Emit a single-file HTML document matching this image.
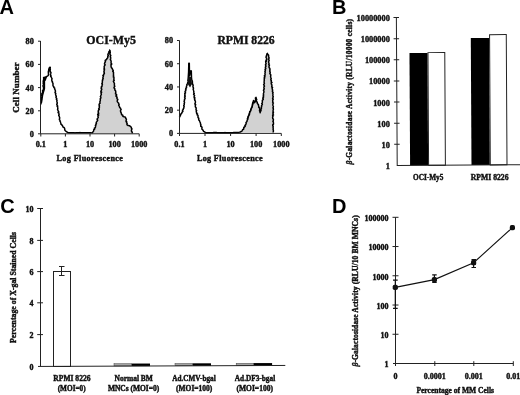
<!DOCTYPE html>
<html><head><meta charset="utf-8">
<style>
html,body{margin:0;padding:0;background:#fff;width:520px;height:395px;overflow:hidden}
svg{display:block;will-change:transform}
.s{font-family:"Liberation Serif",serif;font-weight:bold;fill:#111;stroke:#111;stroke-width:0.4}
.p{font-family:"Liberation Sans",sans-serif;font-weight:bold;fill:#000;font-size:20px}
.ax{stroke:#222;stroke-width:1;fill:none}
.h{stroke:#000;stroke-width:1.5;fill:none;stroke-linejoin:round}
</style></head>
<body>
<svg width="520" height="395" viewBox="0 0 520 395">
<!-- panel letters -->
<text class="p" x="-0.5" y="13.6">A</text>
<text class="p" x="332" y="14">B</text>
<text class="p" x="0.2" y="213.2">C</text>
<text class="p" x="332.1" y="212.6">D</text>

<!-- ===== Panel A left ===== -->
<g id="A1">
<polygon points="91.8,133.3 93.6,131.1 95.5,126.9 97.3,120.8 98.5,112.3 100.3,100.2 101.4,90 102.5,79.2 103.1,76.9 104.2,71.2 104.8,65.5 105.1,61 106.5,59.8 107.7,56.4 108.8,51.8 109.6,50.1 110.3,56.4 111.1,61 111.6,67.8 112.8,70 113.3,76.9 113.9,82.6 114.9,90.1 117.1,98.8 119.2,106 120.7,108.9 121.4,113.2 122.8,116.1 125.7,118.2 127.2,123.3 127.9,125.5 130,126.2 131.5,128.3 132.2,132.7 132.6,133.3" fill="#d2d2d2" stroke="none"/>
<polyline class="h" points="91.80,133.30 92.25,132.75 92.70,132.20 93.15,131.65 93.60,131.10 93.72,130.31 93.85,129.53 94.72,129.07 94.40,128.09 95.22,127.62 95.50,126.90 95.55,126.18 95.39,125.39 96.11,124.87 95.77,124.03 96.42,123.49 96.20,122.69 96.43,122.02 97.01,121.45 97.30,120.80 97.79,120.15 97.05,119.32 97.27,118.63 97.85,117.99 98.33,117.33 97.99,116.56 97.88,115.82 98.67,115.21 97.66,114.35 98.73,113.78 98.15,112.97 98.50,112.30 98.18,111.53 98.26,110.81 98.59,110.13 99.30,109.51 98.65,108.68 99.23,108.04 99.41,107.34 99.20,106.58 99.51,105.90 99.04,105.11 99.14,104.39 99.42,103.71 100.09,103.08 99.90,102.32 99.87,101.59 100.30,100.93 100.30,100.20 100.32,99.47 100.22,98.72 100.89,98.05 100.85,97.31 100.39,96.52 100.86,95.84 100.88,95.10 101.38,94.42 101.28,93.67 100.83,92.89 101.74,92.25 100.79,91.41 101.22,90.72 101.40,90.00 101.78,89.31 101.13,88.52 101.61,87.84 101.14,87.06 101.97,86.42 102.16,85.71 102.00,84.97 102.43,84.29 101.84,83.50 102.37,82.82 102.32,82.09 102.38,81.37 102.30,80.63 102.83,79.96 102.50,79.20 103.22,78.57 102.87,77.66 103.10,76.90 103.43,76.22 102.86,75.38 103.75,74.81 103.82,74.08 104.37,73.45 104.30,72.70 103.81,71.86 104.20,71.20 104.14,70.47 104.55,69.80 103.86,69.00 104.45,68.35 104.18,67.60 104.19,66.88 104.20,66.16 104.80,65.50 105.17,64.77 104.46,63.97 104.65,63.23 104.87,62.49 105.49,61.78 105.10,61.00 105.47,60.02 106.50,59.80 106.68,59.10 107.04,58.46 107.65,57.91 107.82,57.21 107.70,56.40 108.31,55.73 107.81,54.80 108.15,54.08 108.27,53.29 109.07,52.67 108.80,51.80 109.70,51.18 109.60,50.10 110.09,50.75 110.14,51.46 110.15,52.16 110.23,52.86 110.01,53.60 109.96,54.31 110.43,54.97 110.81,55.63 110.30,56.40 110.53,57.15 110.72,57.91 110.62,58.71 110.30,59.56 110.74,60.27 111.10,61.00 111.14,61.76 111.07,62.52 111.06,63.28 111.86,63.98 110.90,64.81 111.10,65.56 111.04,66.32 111.19,67.07 111.60,67.80 112.11,68.47 112.51,69.21 112.80,70.00 113.33,70.73 112.75,71.54 113.49,72.26 113.54,73.03 113.43,73.81 113.54,74.57 113.38,75.35 113.78,76.09 113.30,76.90 113.97,77.55 113.87,78.28 114.00,78.99 113.76,79.73 114.24,80.40 113.30,81.22 113.69,81.90 113.90,82.60 114.42,83.29 114.39,84.06 114.38,84.83 114.46,85.58 114.85,86.29 114.08,87.16 114.01,87.93 114.74,88.59 114.82,89.35 114.90,90.10 115.57,90.70 115.73,91.43 115.63,92.23 115.91,92.93 115.43,93.82 116.39,94.35 116.74,95.03 115.84,96.03 116.52,96.63 117.14,97.25 116.87,98.09 117.10,98.80 117.85,99.36 117.49,100.25 117.18,101.12 117.52,101.80 117.92,102.47 118.64,103.04 118.72,103.80 119.16,104.45 118.68,105.37 119.20,106.00 119.54,106.74 119.65,107.60 120.51,108.08 120.70,108.90 121.14,109.56 120.56,110.39 120.48,111.14 120.75,111.83 120.92,112.54 121.40,113.20 121.41,114.09 121.84,114.78 122.75,115.23 122.80,116.10 123.37,116.54 124.06,116.80 124.87,116.90 125.45,117.32 125.70,118.20 126.17,118.85 126.41,119.58 126.12,120.45 126.03,121.27 126.83,121.82 126.48,122.72 127.20,123.30 126.88,124.21 127.15,124.93 127.90,125.50 128.65,125.58 129.41,125.65 130.00,126.20 130.77,126.71 131.30,127.39 131.50,128.30 131.97,128.98 131.59,129.79 131.38,130.58 131.56,131.30 132.08,131.97 132.20,132.70 132.60,133.30"/>
<polyline class="h" points="40.90,104.50 40.94,103.71 41.13,102.94 41.58,102.19 41.21,101.35 41.34,100.57 41.50,99.80 41.50,99.00 41.29,98.21 41.71,97.50 41.93,96.77 42.19,96.04 41.60,95.20 41.91,94.47 41.79,93.70 42.30,93.00 42.78,92.38 42.85,91.65 42.40,90.79 43.49,90.32 43.20,89.50 43.72,88.75 43.47,87.94 43.49,87.15 43.09,86.33 43.00,85.54 43.57,84.79 43.60,84.00 43.16,83.28 43.29,82.56 43.34,81.83 43.13,81.11 43.56,80.39 43.54,79.67 43.94,78.94 43.62,78.22 43.60,77.50 44.32,77.54 45.00,77.30 45.13,78.20 45.11,79.12 45.40,80.00 45.46,79.24 45.38,78.47 46.19,77.82 45.80,77.00 46.80,76.50 47.80,75.80 48.43,75.20 48.43,74.47 48.45,73.74 48.40,73.00 48.34,72.22 48.38,71.46 48.57,70.72 48.90,70.00 48.65,69.08 49.49,68.39 49.40,67.50 50.20,67.30 50.32,68.04 49.89,68.79 50.37,69.52 49.82,70.27 50.30,71.00 50.03,71.78 50.95,72.45 50.81,73.22 50.60,74.00 50.38,74.84 50.98,75.49 50.66,76.36 51.30,77.00 51.57,77.81 52.05,78.58 51.80,79.50 51.82,80.28 51.83,81.05 52.48,81.70 52.40,82.50 53.00,83.16 52.96,83.99 53.00,84.80 52.98,85.85 53.80,86.50 53.82,87.41 54.70,88.05 54.60,89.00 55.00,89.70 55.29,90.42 55.48,91.16 55.20,92.00 55.03,92.78 55.77,93.40 55.52,94.19 55.70,94.90 55.90,95.67 56.30,96.39 55.92,97.27 56.30,98.00 56.78,98.75 56.40,99.62 57.04,100.34 56.86,101.19 56.90,102.00 57.27,102.66 57.30,103.37 56.70,104.16 56.95,104.84 57.53,105.48 57.04,106.25 57.80,106.86 57.60,107.60 57.85,108.43 57.55,109.36 57.91,110.17 58.20,111.00 58.74,111.67 58.02,112.60 58.93,113.19 58.80,114.00 59.13,114.68 58.70,115.46 59.23,116.12 59.35,116.83 59.66,117.51 59.73,118.23 59.33,119.00 59.50,119.70 60.02,120.35 59.97,121.22 60.46,121.87 60.66,122.64 60.90,123.40 61.00,124.36 61.86,124.79 62.26,125.54 62.80,126.20 62.97,127.11 64.01,127.42 64.51,128.11 64.70,129.00 64.81,130.01 65.36,130.76 66.10,131.40 66.70,131.80 67.30,132.20 67.90,132.60 68.60,132.63 69.30,132.67 70.00,132.70 70.71,132.73 71.43,132.76 72.14,132.79 72.86,132.81 73.57,132.84 74.29,132.87 75.00,132.90 75.71,132.86 76.43,132.81 77.14,132.77 77.86,132.73 78.57,132.69 79.29,132.64 80.00,132.60 80.71,132.63 81.43,132.66 82.14,132.69 82.86,132.71 83.57,132.74 84.29,132.77 85.00,132.80 85.76,132.80 86.51,132.80 87.27,132.80 88.02,132.80 88.78,132.80 89.53,132.80 90.29,132.80 91.04,132.80 91.80,132.80"/>
<polyline points="44.4,77.8 44.4,88.5 42.6,95 41.5,102" fill="none" stroke="#000" stroke-width="1.5" stroke-linejoin="round"/>
<path class="ax" d="M40.5,41 V133.8 H139.2 M38,41.2 H40.5 M38,64.4 H40.5 M38,87.6 H40.5 M38,110.8 H40.5 M38,133.8 H40.5 M40.8,133.8 V136.5 M65.4,133.8 V136.5 M90,133.8 V136.5 M114.6,133.8 V136.5 M139.2,133.8 V136.5"/>
<g class="s" font-size="8.2" text-anchor="end">
<text x="33.8" y="44.2">80</text>
<text x="33.8" y="67.4">60</text>
<text x="33.8" y="90.6">40</text>
<text x="33.8" y="113.8">20</text>
<text x="33.8" y="137">0</text>
</g>
<g class="s" font-size="8.2" text-anchor="middle">
<text x="40.8" y="147">0.1</text>
<text x="65.4" y="147">1</text>
<text x="90" y="147">10</text>
<text x="114.6" y="147">100</text>
<text x="139.2" y="147">1000</text>
</g>
<text class="s" font-size="8.2" x="56.5" y="161.2" textLength="66.5" lengthAdjust="spacing">Log Fluorescence</text>
<text class="s" font-size="12" x="86.3" y="44.4" textLength="49.6" lengthAdjust="spacingAndGlyphs">OCI-My5</text>
<text class="s" font-size="9" transform="translate(19.4,112.8) rotate(-90)" textLength="50.4" lengthAdjust="spacing">Cell Number</text>
</g>

<!-- ===== Panel A right ===== -->
<g id="A2">
<polygon points="239.2,132.6 242.1,130.9 243.8,128.4 245.6,124.9 247.3,120 247.9,117.9 249,115 249.6,112.1 250.8,110.3 251.4,108.6 252.5,105.1 253.2,102 253.7,100.5 254.3,102.8 255.2,101 255.6,99 256,97.4 256.6,101.6 257.8,104 258.9,106.3 259.5,110.3 260.1,112.7 261.3,108.6 262.4,101.6 263.6,94.7 264.1,84 265,72.9 265.9,63.1 266.8,54 267.5,53.4 268.6,56.1 268.9,63.1 270,72.9 271.4,81.2 272.4,89.6 272.9,93.8 273.2,132.6" fill="#d2d2d2" stroke="none"/>
<polyline class="h" points="239.20,132.60 239.92,132.18 240.65,131.75 241.36,131.30 242.10,130.90 242.43,130.21 242.68,129.47 243.65,129.21 243.80,128.40 243.76,127.50 244.52,127.00 245.20,126.46 244.90,125.43 245.60,124.90 245.89,124.22 246.18,123.53 245.94,122.66 246.47,122.06 246.99,121.46 247.02,120.69 247.30,120.00 247.69,119.36 247.40,118.52 247.90,117.90 247.95,117.09 248.12,116.33 248.73,115.73 249.00,115.00 249.52,114.35 249.38,113.57 249.69,112.88 249.60,112.10 249.91,111.44 250.58,111.02 250.80,110.30 250.76,109.33 251.40,108.60 251.44,107.84 251.99,107.25 252.25,106.56 252.21,105.78 252.50,105.10 252.31,104.24 252.65,103.50 252.77,102.72 253.20,102.00 253.26,101.19 253.70,100.50 253.63,101.34 254.36,101.97 254.30,102.80 255.06,102.06 255.20,101.00 255.73,100.07 255.60,99.00 255.41,98.10 256.00,97.40 256.21,98.08 256.21,98.80 256.72,99.44 256.47,100.19 256.14,100.95 256.60,101.60 257.31,102.24 257.32,103.24 257.80,104.00 258.47,104.62 258.47,105.56 258.90,106.30 258.67,107.15 259.40,107.86 259.70,108.63 259.75,109.44 259.50,110.30 259.67,111.11 260.32,111.79 260.10,112.70 259.94,111.91 260.50,111.33 261.06,110.76 260.83,109.95 261.01,109.26 261.30,108.60 261.53,107.92 261.16,107.14 261.70,106.51 261.45,105.75 261.95,105.12 262.37,104.46 261.67,103.64 262.23,103.01 262.38,102.31 262.40,101.60 262.21,100.86 262.43,100.18 263.20,99.61 263.32,98.92 262.66,98.09 263.30,97.49 263.64,96.84 263.13,96.04 263.58,95.41 263.60,94.70 263.22,93.97 263.55,93.27 263.86,92.57 263.81,91.85 264.01,91.14 263.43,90.40 263.70,89.70 264.19,89.01 263.98,88.28 263.89,87.56 263.88,86.85 264.44,86.16 264.10,85.43 263.63,84.69 264.10,84.00 264.43,83.28 264.07,82.51 264.22,81.78 264.08,81.02 264.35,80.30 264.30,79.55 264.15,78.79 264.70,78.09 264.28,77.31 264.95,76.62 264.33,75.83 265.07,75.14 265.16,74.40 264.94,73.64 265.00,72.90 265.25,72.22 264.90,71.48 265.41,70.82 265.19,70.09 265.08,69.38 265.80,68.74 265.36,67.99 265.40,67.29 265.90,66.63 265.53,65.89 265.86,65.21 265.48,64.47 266.14,63.83 265.90,63.10 265.75,62.38 265.64,61.66 266.53,61.04 265.88,60.27 266.65,59.64 266.75,58.94 266.48,58.21 266.02,57.46 266.13,56.76 266.33,56.07 266.56,55.39 266.83,54.71 266.80,54.00 267.50,53.40 267.39,54.23 268.17,54.70 268.62,55.30 268.60,56.10 268.57,56.80 268.99,57.49 269.06,58.18 268.67,58.90 268.57,59.61 269.17,60.28 268.85,61.00 268.66,61.71 268.63,62.41 268.90,63.10 269.08,63.79 268.71,64.54 269.43,65.17 269.02,65.92 269.05,66.63 269.03,67.34 269.45,68.00 269.89,68.66 270.01,69.35 269.66,70.10 270.06,70.77 269.73,71.51 270.29,72.16 270.00,72.90 269.87,73.63 270.48,74.24 270.78,74.90 270.75,75.62 270.62,76.35 270.65,77.06 270.92,77.72 271.22,78.38 271.07,79.12 270.77,79.88 271.25,80.51 271.40,81.20 271.09,81.95 271.99,82.55 271.21,83.35 271.39,84.04 271.78,84.70 271.88,85.40 271.95,86.10 271.70,86.84 272.54,87.45 272.11,88.22 272.28,88.90 272.40,89.60 272.66,90.28 272.37,91.02 272.45,91.72 273.09,92.36 272.64,93.12 272.90,93.80 272.95,94.51 272.92,95.21 272.79,95.92 273.32,96.62 272.83,97.33 273.05,98.03 272.60,98.74 273.19,99.44 272.66,100.15 272.75,100.86 272.85,101.56 272.63,102.27 273.39,102.97 272.89,103.68 272.88,104.38 272.83,105.09 273.08,105.79 273.39,106.50 273.28,107.20 272.91,107.91 273.30,108.61 273.41,109.32 273.16,110.02 273.06,110.73 273.00,111.44 273.47,112.14 272.80,112.85 273.20,113.55 272.80,114.26 273.51,114.96 272.66,115.67 272.99,116.38 272.65,117.08 272.65,117.79 272.79,118.49 273.45,119.19 273.24,119.90 273.35,120.61 272.86,121.31 273.40,122.02 273.37,122.72 273.48,123.43 273.48,124.13 272.75,124.84 272.72,125.55 273.27,126.25 272.94,126.96 273.19,127.66 273.15,128.37 273.29,129.07 273.06,129.78 273.42,130.48 273.41,131.19 273.19,131.89 273.20,132.60"/>
<polyline points="247.5,119.5 249.3,113.5 251,109.5 252.8,104.5 253.7,101.5" fill="none" stroke="#000" stroke-width="1.2"/>
<polyline class="h" points="179.40,117.30 179.80,116.56 180.20,115.83 180.55,115.07 180.60,114.20 181.45,113.74 181.84,112.93 182.20,112.10 182.89,111.37 182.47,110.21 183.20,109.50 183.33,108.75 183.90,108.10 183.80,107.30 184.18,106.60 183.65,105.71 184.12,105.04 184.30,104.30 184.12,103.57 184.44,102.87 184.52,102.15 184.06,101.40 184.30,100.70 184.60,100.00 184.47,99.27 185.10,98.61 185.03,97.88 184.55,97.12 185.19,96.45 184.66,95.69 185.16,95.01 184.78,94.26 184.73,93.53 185.58,92.89 185.05,92.12 185.12,91.41 185.87,90.75 185.50,90.00 186.04,89.29 185.76,88.35 186.56,87.71 186.41,86.81 186.60,86.00 187.00,85.30 186.85,84.42 187.73,83.88 187.60,83.00 187.86,82.31 188.19,81.62 188.21,80.90 187.76,80.12 188.03,79.43 188.11,78.71 188.20,78.00 188.25,77.25 188.30,76.50 188.35,75.75 188.40,75.00 188.45,74.25 188.50,73.50 188.55,72.75 188.60,72.00 188.62,71.28 188.63,70.55 188.65,69.83 188.67,69.10 188.68,68.38 188.70,67.65 188.72,66.92 188.73,66.20 188.75,65.47 188.77,64.75 188.78,64.02 188.80,63.30 189.30,63.30 189.31,64.01 189.32,64.71 189.33,65.42 189.34,66.12 189.36,66.83 189.37,67.53 189.38,68.24 189.39,68.94 189.40,69.65 189.41,70.36 189.42,71.06 189.43,71.77 189.44,72.47 189.46,73.18 189.47,73.88 189.48,74.59 189.49,75.29 189.50,76.00 189.66,75.20 189.82,74.40 189.98,73.60 190.14,72.80 190.30,72.00 190.80,70.80 191.30,71.00 191.32,71.70 191.34,72.40 191.36,73.10 191.38,73.80 191.40,74.50 191.42,75.20 191.44,75.90 191.46,76.60 191.48,77.30 191.50,78.00 191.60,78.71 191.70,79.43 191.92,80.13 192.20,80.82 192.32,81.53 192.49,82.23 192.20,83.00 192.57,83.70 192.51,84.52 193.23,85.13 193.00,86.00 192.94,86.82 193.34,87.58 193.47,88.38 193.12,89.24 193.50,90.00 193.60,90.71 193.84,91.41 193.77,92.14 193.66,92.88 194.32,93.52 193.59,94.34 194.10,95.00 194.63,95.70 194.08,96.54 194.09,97.30 194.93,97.96 194.34,98.81 194.82,99.51 194.73,100.29 195.34,100.98 195.40,101.74 195.38,102.51 195.20,103.30 194.91,104.09 195.70,104.70 195.32,105.51 195.28,106.25 195.38,106.98 196.03,107.62 196.14,108.34 196.10,109.09 195.99,109.85 196.70,110.48 196.25,111.29 196.32,112.02 196.70,112.70 196.63,113.49 197.56,113.94 197.02,114.90 197.98,115.34 198.00,116.10 198.01,116.87 197.98,117.64 198.70,118.16 198.80,118.90 198.66,119.76 199.22,120.40 199.65,121.08 199.87,121.82 200.22,122.53 200.53,123.25 200.40,124.10 200.95,124.67 200.74,125.53 200.73,126.30 201.69,126.73 202.03,127.38 201.90,128.20 201.91,129.18 202.67,129.76 203.18,130.49 203.50,131.30 204.20,131.73 204.90,132.17 205.60,132.60 206.33,132.63 207.07,132.67 207.80,132.70 208.53,132.73 209.27,132.77 210.00,132.80 210.71,132.76 211.43,132.71 212.14,132.67 212.86,132.63 213.57,132.59 214.29,132.54 215.00,132.50 215.71,132.54 216.43,132.59 217.14,132.63 217.86,132.67 218.57,132.71 219.29,132.76 220.00,132.80 220.71,132.77 221.43,132.74 222.14,132.71 222.86,132.69 223.57,132.66 224.29,132.63 225.00,132.60 225.71,132.63 226.43,132.66 227.14,132.69 227.86,132.71 228.57,132.74 229.29,132.77 230.00,132.80 230.71,132.76 231.43,132.71 232.14,132.67 232.86,132.63 233.57,132.59 234.29,132.54 235.00,132.50 235.70,132.52 236.40,132.53 237.10,132.55 237.80,132.57 238.50,132.58 239.20,132.60"/>
<polygon points="188.3,77 191.3,77 192,84 190,87.5 187.7,84" fill="#111"/>
<path class="ax" d="M179.5,40.5 V133.4 H281.3 M177,40.50 H179.5 M177,63.73 H179.5 M177,86.95 H179.5 M177,110.18 H179.5 M177,133.40 H179.5 M179.5,133.4 V136 M205.0,133.4 V136 M230.6,133.4 V136 M256.1,133.4 V136 M281.3,133.4 V136"/>
<g class="s" font-size="8.2" text-anchor="end">
<text x="173" y="43.40">80</text>
<text x="173" y="66.62">60</text>
<text x="173" y="89.85">40</text>
<text x="173" y="113.08">20</text>
<text x="173" y="136.30">0</text>
</g>
<g class="s" font-size="8.2" text-anchor="middle">
<text x="179.4" y="146.9">0.1</text>
<text x="205" y="146.9">1</text>
<text x="230.6" y="146.9">10</text>
<text x="256.1" y="146.9">100</text>
<text x="281.3" y="146.9">1000</text>
</g>
<text class="s" font-size="8.2" x="196.9" y="160.8" textLength="65.8" lengthAdjust="spacing">Log Fluorescence</text>
<text class="s" font-size="11.6" x="217.4" y="43.6" textLength="57.2" lengthAdjust="spacingAndGlyphs">RPMI 8226</text>
</g>

<!-- ===== Panel B ===== -->
<g id="B">
<g transform="rotate(-0.32 397.2 165.4)">
<rect x="410.1" y="53.1" width="18" height="112.3" fill="#000"/>
<rect x="428.6" y="52.8" width="16.8" height="112.6" fill="#fff" stroke="#222" stroke-width="1"/>
<rect x="471.5" y="38.4" width="18.3" height="127" fill="#000"/>
<rect x="490.3" y="35.2" width="16.7" height="130.2" fill="#fff" stroke="#222" stroke-width="1"/>
<path class="ax" d="M397.2,17.6 V165.4 H530 M394.3,17.60 H399.8 M394.3,38.71 H399.8 M394.3,59.82 H399.8 M394.3,80.93 H399.8 M394.3,102.04 H399.8 M394.3,123.15 H399.8 M394.3,144.26 H399.8"/>
</g>
<g class="s" font-size="8.3" text-anchor="end">
<text x="389.8" y="21.10">10000000</text>
<text x="389.8" y="42.21">1000000</text>
<text x="389.8" y="63.32">100000</text>
<text x="389.8" y="84.43">10000</text>
<text x="389.8" y="105.54">1000</text>
<text x="389.8" y="126.65">100</text>
<text x="389.8" y="147.76">10</text>
<text x="389.8" y="168.87">1</text>
</g>
<text class="s" font-size="7.6" x="413" y="180.1" textLength="30.3" lengthAdjust="spacingAndGlyphs">OCI-My5</text>
<text class="s" font-size="7.6" x="470.8" y="179.8" textLength="37.7" lengthAdjust="spacingAndGlyphs">RPMI 8226</text>
<text class="s" font-size="7.4" transform="translate(351.6,164.4) rotate(-90)" textLength="145.4" lengthAdjust="spacing"><tspan font-style="italic">β</tspan>-Galactosidase Activity (RLU/10000 cells)</text>
</g>

<!-- ===== Panel C ===== -->
<g id="C">
<rect x="53.5" y="271.5" width="17" height="95" fill="#fff" stroke="#222" stroke-width="1"/>
<path d="M61.5,266.5 V275.5 M59,266.5 H64.5 M59,275.5 H64.5" stroke="#222" stroke-width="1" fill="none"/>
<rect x="114.0" y="363.74" width="17.6" height="2.2" fill="#a4a4a4" stroke="#444" stroke-width="0.5"/>
<rect x="131.7" y="363.54" width="18.3" height="2.6" fill="#000"/>
<rect x="175.0" y="363.51" width="17.6" height="2.2" fill="#a4a4a4" stroke="#444" stroke-width="0.5"/>
<rect x="192.7" y="363.31" width="18.3" height="2.6" fill="#000"/>
<rect x="236.2" y="363.27" width="17.6" height="2.2" fill="#a4a4a4" stroke="#444" stroke-width="0.5"/>
<rect x="253.8" y="363.07" width="18.3" height="2.6" fill="#000"/>
<path class="ax" d="M40.5,208.5 V366.4 M38,366.45 L285.3,365.45 M37.2,208.5 H43 M37.2,240.4 H43 M37.2,271.6 H43 M37.2,302.8 H43 M37.2,334.6 H43"/>
<g class="s" font-size="8" text-anchor="end">
<text x="33.6" y="212.0">10</text>
<text x="33.6" y="243.9">8</text>
<text x="33.6" y="275.1">6</text>
<text x="33.6" y="306.3">4</text>
<text x="33.6" y="338.1">2</text>
<text x="33.6" y="369.9">0</text>
</g>
<g class="s" font-size="7.4">
<text x="53.3" y="380.7" textLength="37.2" lengthAdjust="spacingAndGlyphs">RPMI 8226</text>
<text x="57.7" y="390.8" textLength="28" lengthAdjust="spacingAndGlyphs">(MOI=0)</text>
<text x="114.5" y="380.7" textLength="38.4" lengthAdjust="spacingAndGlyphs">Normal BM</text>
<text x="107.9" y="390.8" textLength="51.3" lengthAdjust="spacingAndGlyphs">MNCs (MOI=0)</text>
<text x="172.2" y="380.7" textLength="43.5" lengthAdjust="spacingAndGlyphs">Ad.CMV-bgal</text>
<text x="176" y="390.8" textLength="36.3" lengthAdjust="spacingAndGlyphs">(MOI=100)</text>
<text x="234.8" y="380.7" textLength="40.4" lengthAdjust="spacingAndGlyphs">Ad.DF3-bgal</text>
<text x="236.5" y="390.8" textLength="36.4" lengthAdjust="spacingAndGlyphs">(MOI=100)</text>
</g>
<text class="s" font-size="7.8" transform="translate(16.4,342.9) rotate(-90)" textLength="111" lengthAdjust="spacing">Percentage of X-gal Stained Cells</text>
</g>

<!-- ===== Panel D ===== -->
<g id="D">
<path class="ax" d="M395.5,217.3 V363.5 H513.3 M392.5,217.30 H398.5 M392.5,246.54 H398.5 M392.5,275.78 H398.5 M392.5,305.02 H398.5 M392.5,334.26 H398.5 M393,363.5 H395.5 M395.5,361.2 V366 M434.8,361.2 V366 M473.8,361.2 V366 M513.3,361.2 V366"/>
<g class="s" font-size="8" text-anchor="end">
<text x="388.4" y="221.20">100000</text>
<text x="388.4" y="250.44">10000</text>
<text x="388.4" y="279.68">1000</text>
<text x="388.4" y="308.92">100</text>
<text x="388.4" y="338.16">10</text>
<text x="388.4" y="367.40">1</text>
</g>
<g class="s" font-size="8" text-anchor="middle">
<text x="395.6" y="378.5">0</text>
<text x="434.8" y="378.5">0.0001</text>
<text x="473.8" y="378.5">0.001</text>
<text x="513.3" y="378.5">0.01</text>
</g>
<text class="s" font-size="8" x="416.4" y="392.5" textLength="77.6" lengthAdjust="spacingAndGlyphs">Percentage of MM Cells</text>
<text class="s" font-size="7.6" transform="translate(358.4,366.5) rotate(-90)" textLength="151.2" lengthAdjust="spacing"><tspan font-style="italic">β</tspan>-Galactosidase Activity (RLU/10 BM MNCs)</text>
<polyline points="395.3,287.4 434.4,279.6 473.6,262.7 512.4,227.7" fill="none" stroke="#111" stroke-width="1.1"/>
<path d="M395.3,280.2 V308.4 M393,280.2 H397.7 M393,308.4 H397.7 M434.4,274.8 V282.4 M432.2,274.8 H436.7 M432.2,282.4 H436.7 M473.6,259.6 V267.5 M471.5,259.6 H476 M471.5,267.5 H476" stroke="#111" stroke-width="1.2" fill="none"/>
<rect x="392.7" y="284.8" width="5.2" height="5.2" rx="1.8" fill="#111"/>
<rect x="431.8" y="277" width="5.2" height="5.2" rx="1.8" fill="#111"/>
<rect x="471" y="260.1" width="5.2" height="5.2" rx="1.6" fill="#111"/>
<rect x="509.8" y="225.1" width="5.2" height="5.2" rx="1.8" fill="#111"/>
</g>
</svg>
</body></html>
